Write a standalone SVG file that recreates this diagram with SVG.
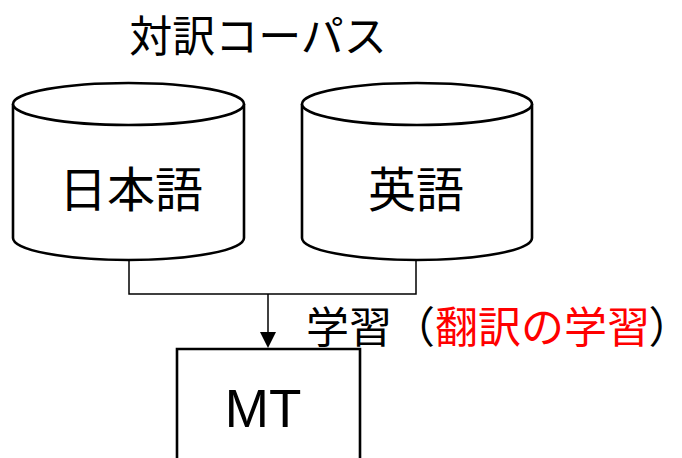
<svg xmlns="http://www.w3.org/2000/svg" width="682" height="458" viewBox="0 0 682 458">
<style>
.cyl{fill:#fff;stroke:#000;stroke-width:2.6}
.box{fill:#fff;stroke:#000;stroke-width:2.6}
.conn{fill:none;stroke:#000;stroke-width:1.5}
.jp{font-family:"Noto Sans CJK JP","Noto Sans",sans-serif;fill:#000}
.lat{font-family:"Liberation Sans",Arial,sans-serif;fill:#000}
.red{fill:#ff0000}
.palt{font-feature-settings:"palt"}
</style>
<text class="jp" x="258" y="33" font-size="43" text-anchor="middle" dominant-baseline="central">対訳コーパス</text>
<g id="connectors">
<path class="conn" d="M129,260 V294 H416 V258"/>
<path d="M268,294 V333" class="conn"/>
<path d="M260,332 L276,332 L268,348 z" fill="#000"/>
</g>
<g id="japanese">
<path class="cyl" d="M13,104 V238 A115.5,22 0 0 0 244,238 V104"/>
<ellipse class="cyl" cx="128.5" cy="104" rx="115.5" ry="21"/>
<text class="jp" x="131" y="186" font-size="48" text-anchor="middle" dominant-baseline="central">日本語</text>
</g>
<g id="english">
<path class="cyl" d="M302,104 V238 A115,22 0 0 0 532,238 V104"/>
<ellipse class="cyl" cx="417" cy="104" rx="115" ry="21"/>
<text class="jp" x="416" y="186" font-size="48" text-anchor="middle" dominant-baseline="central">英語</text>
</g>
<g id="mt">
<path class="box" d="M177,460 V349 H360 V460"/>
<text class="lat" x="263" y="427" font-size="53" text-anchor="middle">MT</text>
</g>
<text class="jp" x="306" y="324" font-size="43" dominant-baseline="central">学習（<tspan class="red">翻訳の学習</tspan><tspan class="palt">）</tspan></text>
</svg>
